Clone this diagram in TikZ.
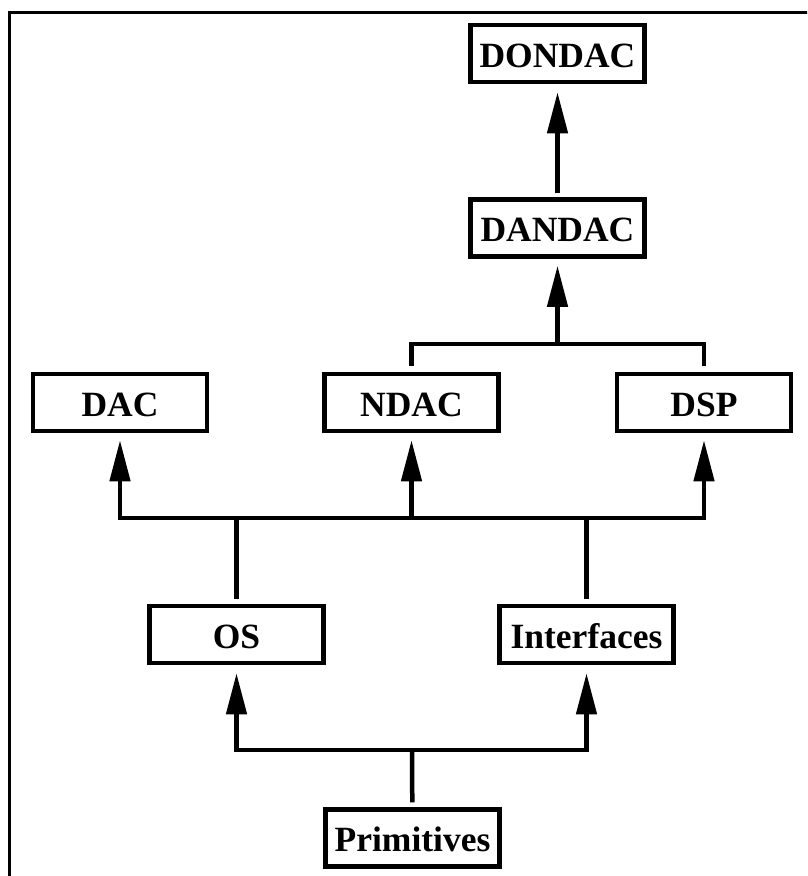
\documentclass[tikz,border=0pt]{standalone}
\usepackage{fontspec}
\setmainfont{Liberation Serif}
\usetikzlibrary{arrows.meta}
\begin{document}
\begin{tikzpicture}[x=1pt,y=-1pt,
  box/.style={draw, line width=4.5pt, minimum width=174pt, minimum height=57pt,
    inner sep=0pt, font=\fontsize{35.5pt}{40pt}\selectfont\bfseries,
    text height=27pt, text depth=0pt},
  wire/.style={line width=4.5pt, line join=miter},
  arrow/.style={wire, -{Triangle[length=41pt,width=20pt]}}]
\useasboundingbox (0,0) rectangle (807,876);
\clip (0,0) rectangle (807,876);
% outer frame (runs past the page on the right and bottom)
\draw[line width=3pt] (9,12) rectangle (840,920);

% boxes
\node[box] (DONDAC)     at (557.5, 53.5) {DONDAC};
\node[box] (DANDAC)     at (557.5,228)   {DANDAC};
\node[box] (DAC)        at (120,402.5)   {DAC};
\node[box] (NDAC)       at (411.5,402.5) {NDAC};
\node[box] (DSP)        at (704,402.5)   {DSP};
\node[box] (OS)         at (236.5,634.5) {OS};
\node[box] (Interfaces) at (586.5,634.5) {Interfaces};
\node[box] (Primitives) at (412.5,838)   {Primitives};

% junction points of the bus lines
\coordinate (j1) at (557.5,344);
\coordinate (j2) at (411.5,518);
\coordinate (j3) at (412,750);

% DANDAC -> DONDAC
\draw[arrow, shorten <=4pt, shorten >=8pt] (DANDAC) -- (DONDAC);

% NDAC, DSP -> DANDAC
\draw[wire, shorten >=6pt] (j1) -| (NDAC);
\draw[wire, shorten >=6pt] (j1) -| (DSP);
\draw[arrow, shorten >=7pt] (j1) -- (DANDAC);

% OS, Interfaces -> DAC, NDAC, DSP
\draw[arrow, shorten >=7pt] (j2) -| (DAC);
\draw[arrow, shorten >=7pt] (j2) -| (DSP);
\draw[arrow, shorten >=7pt] (j2) -- (NDAC);
\draw[wire, shorten <=5pt] (OS) -- (OS |- j2);
\draw[wire, shorten <=5pt] (Interfaces) -- (Interfaces |- j2);

% Primitives -> OS, Interfaces
\draw[arrow, shorten >=8pt] (j3) -| (OS);
\draw[arrow, shorten >=8pt] (j3) -| (Interfaces);
\draw[wire, shorten <=5pt] (Primitives) -- (j3);
\end{tikzpicture}
\end{document}
